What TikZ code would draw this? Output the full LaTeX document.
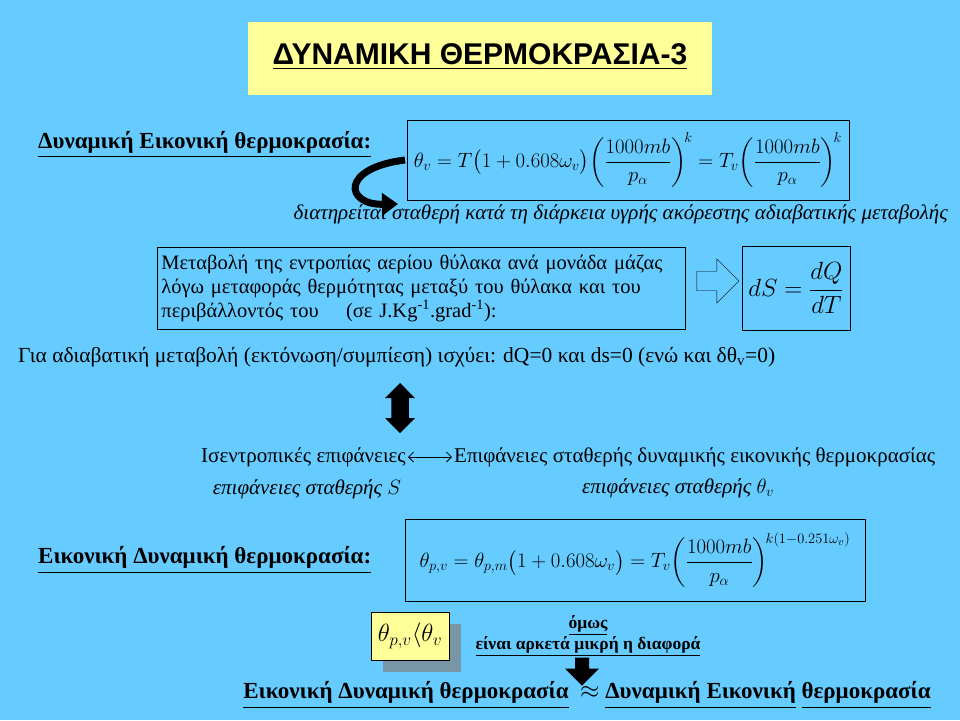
\documentclass[tikz,border=0pt]{standalone}
\usepackage{fontspec}
\setmainfont{Liberation Serif}
\newfontfamily\titlefont{Liberation Sans}
\usepackage{amsmath}
\usetikzlibrary{positioning,arrows.meta,shapes.arrows}
\definecolor{slidebg}{HTML}{66CCFF}
\definecolor{titlebg}{HTML}{FFFF99}
\begin{document}
\begin{tikzpicture}[x=1pt,y=-1pt,
  every node/.style={font=\fontsize{21}{25}\selectfont, inner sep=2pt},
  framebox/.style={draw, thick, inner sep=4pt},
  headtext/.style={font=\fontsize{23}{27}\selectfont\bfseries},
  ]
  % background
  \fill[slidebg] (0,0) rectangle (960,720);
  \fill[titlebg] (248,22) rectangle (712,95);
  \node[font=\titlefont\fontsize{30}{34}\selectfont\bfseries] (title) at (480,57) {\underline{ΔΥΝΑΜΙΚΗ ΘΕΡΜΟΚΡΑΣΙΑ-3}};
  % first formula
  \node[headtext, anchor=west] (dyn) at (36,145) {\underline{Δυναμική Εικονική θερμοκρασία:}};
  \node[framebox, minimum width=442pt, minimum height=80pt, font=\fontsize{21}{25}\selectfont] (thv) at (628,160)
    {$\theta_v = T\bigl(1+0.608\omega_v\bigr)\biggl(\dfrac{1000mb}{p_\alpha}\biggr)^{\!k} = T_v\biggl(\dfrac{1000mb}{p_\alpha}\biggr)^{\!k}$};
  \node[font=\fontsize{21}{25}\selectfont\itshape, anchor=east] (kept) at (950,214)
    {διατηρείται σταθερή κατά τη διάρκεια υγρής ακόρεστης αδιαβατικής μεταβολής};
  \draw[line width=7pt, -{Triangle[length=16pt,width=22pt]}] (405,160) .. controls (340,168) and (345,205) .. (398,204);
  % entropy
  \node[framebox, align=left, anchor=north west, text width=520pt, minimum height=82pt, font=\fontsize{20.5}{24}\selectfont] (entr) at (157,247)
    {Μεταβολή της εντροπίας αερίου θύλακα ανά μονάδα μάζας\\
     λόγω μεταφοράς θερμότητας μεταξύ του θύλακα και του\\
     περιβάλλοντός του\quad\ (σε J.Kg\textsuperscript{-1}.grad\textsuperscript{-1}):};
  \node[framebox, minimum width=108pt, minimum height=84pt, font=\fontsize{26}{30}\selectfont] (ds) at (796,288)
    {$dS = \dfrac{dQ}{dT}$};
  \node[single arrow, draw, fill=slidebg, minimum height=42pt, minimum width=44pt,
        single arrow head extend=4pt, inner sep=3pt] (imp) at (713,281) {};
  \node[anchor=west, font=\fontsize{21.5}{25}\selectfont] (adiab) at (16,357)
    {Για αδιαβατική μεταβολή (εκτόνωση/συμπίεση) ισχύει: dQ=0 και ds=0 (ενώ και δθ\textsubscript{v}=0)};
  \node[double arrow, fill=black, rotate=90, minimum height=50pt, minimum width=30pt,
        double arrow head extend=3pt, inner sep=4pt] (both) at (400,408) {};
  % surfaces
  \node[anchor=east] (isen) at (408,457) {Ισεντροπικές επιφάνειες};
  \node[anchor=west] (dynsurf) at (452,457) {Επιφάνειες σταθερής δυναμικής εικονικής θερμοκρασίας};
  \draw[{Straight Barb[length=5pt]}-{Straight Barb[length=5pt]}, thick] (isen) -- (dynsurf);
  \node[font=\fontsize{21}{25}\selectfont\itshape] (surfs) at (307,489) {επιφάνειες σταθερής $S$};
  \node[font=\fontsize{21}{25}\selectfont\itshape] (surfth) at (678,488) {επιφάνειες σταθερής $\theta_v$};
  % second formula
  \node[headtext, anchor=west] (eik) at (36,560) {\underline{Εικονική Δυναμική θερμοκρασία:}};
  \node[framebox, minimum width=460pt, minimum height=82pt, font=\fontsize{22}{26}\selectfont] (thpv) at (635,560)
    {$\theta_{p,v} = \theta_{p,m}\bigl(1+0.608\omega_v\bigr) = T_v\biggl(\dfrac{1000mb}{p_\alpha}\biggr)^{\!k(1-0.251\omega_v)}$};
  \fill[gray!70!slidebg] (383,624) rectangle (461,672);
  \node[draw, fill=titlebg, minimum width=78pt, minimum height=48pt, font=\fontsize{24}{28}\selectfont, inner sep=1pt] (ineq) at (410,636)
    {$\theta_{p,v}\langle\theta_v$};
  \node[font=\fontsize{17.5}{21}\selectfont\bfseries, align=center] (omos) at (588,636)
    {\underline{όμως}\\ \underline{είναι αρκετά μικρή η διαφορά}};
  \node[single arrow, fill=black, rotate=-90, minimum height=28pt, minimum width=34pt,
        single arrow head extend=6pt, inner sep=4pt] (down) at (582,668) {};
  \node[font=\fontsize{23}{27}\selectfont\bfseries] (last) at (587,695)
    {\underline{Εικονική Δυναμική θερμοκρασία}\ \ $\approx$ \underline{Δυναμική Εικονική} \underline{θερμοκρασία}};
\end{tikzpicture}
\end{document}
